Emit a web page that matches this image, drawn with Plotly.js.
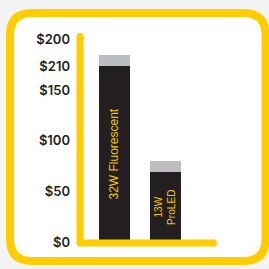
<!DOCTYPE html>
<html>
<head>
<meta charset="utf-8">
<script src="https://cdn.plot.ly/plotly-3.0.1.min.js"></script>
<style>
html,body{margin:0;padding:0;background:#f4f4f4;}
#chart{width:269px;height:269px;}
</style>
</head>
<body>
<div id="chart"></div>
<script>
// Data
const categories = [0, 1];
const barLabels = ["32W Fluorescent", "13W<br>ProLED"];
const baseCost = [174, 69];
const capCost = [11, 11];
const tickValues = [0, 50, 100, 150, 173, 200];
const tickLabels = ["$0", "$50", "$100", "$150", "$210", "$200"];

// Layout geometry (pixels)
const W = 269, H = 269;
const ml = 80, mr = 51, mt = 30, mb = 19;
const pw = W - ml - mr, ph = H - mt - mb;
const px = x => (x - ml) / pw;
const py = y => (H - mb - y) / ph;

const yellow = "#ffcc00";

// rounded frame
const L = 10, R = 265.5, T = 13, B = 261, r = 22;
const framePath =
  `M ${px(L + r)} ${py(T)} L ${px(R - r)} ${py(T)} Q ${px(R)} ${py(T)} ${px(R)} ${py(T + r)} ` +
  `L ${px(R)} ${py(B - r)} Q ${px(R)} ${py(B)} ${px(R - r)} ${py(B)} ` +
  `L ${px(L + r)} ${py(B)} Q ${px(L)} ${py(B)} ${px(L)} ${py(B - r)} ` +
  `L ${px(L)} ${py(T + r)} Q ${px(L)} ${py(T)} ${px(L + r)} ${py(T)} Z`;

function dot(cx, cy, rad) {
  return {type: "circle", xref: "paper", yref: "paper", layer: "above",
    x0: px(cx - rad), x1: px(cx + rad), y0: py(cy + rad), y1: py(cy - rad),
    fillcolor: yellow, line: {width: 0}};
}

const shapes = [
  {type: "path", xref: "paper", yref: "paper", layer: "below", path: framePath,
   fillcolor: "#ffffff", line: {color: yellow, width: 8}},
  {type: "line", xref: "paper", yref: "paper", layer: "above",
   x0: px(80), x1: px(80), y0: py(36.5), y1: py(243), line: {color: yellow, width: 7}},
  {type: "line", xref: "paper", yref: "paper", layer: "above",
   x0: px(80), x1: px(213.5), y0: py(243), y1: py(243), line: {color: yellow, width: 7}},
  dot(80, 36.5, 3.5), dot(213.5, 243, 3.5), dot(80, 243, 3.5)
];

const traces = [
  {type: "bar", x: categories, y: baseCost, marker: {color: "#231f20", line: {width: 0}},
   text: barLabels, textposition: "inside", insidetextanchor: "middle", textangle: -90,
   textfont: {family: "Liberation Sans, Arial, sans-serif", size: 12, color: "#f2c500"},
   hoverinfo: "none", cliponaxis: false},
  {type: "bar", x: categories, y: capCost, marker: {color: "#bcbdc0", line: {width: 0}},
   hoverinfo: "none"}
];

const layout = {
  width: W, height: H,
  margin: {l: ml, r: mr, t: mt, b: mb, pad: 0},
  paper_bgcolor: "#f4f4f4",
  plot_bgcolor: "rgba(0,0,0,0)",
  barmode: "stack",
  bargap: 0.392,
  showlegend: false,
  xaxis: {range: [-0.676, -0.676 + pw / 51], showticklabels: false, showgrid: false,
          zeroline: false, showline: false, ticks: "", fixedrange: true},
  yaxis: {range: [(242 - (H - mb)) / 1.0133, (242 - mt) / 1.0133],
          tickmode: "array", tickvals: tickValues, ticktext: tickLabels,
          showgrid: false, zeroline: false, showline: false, ticks: "",
          ticklabelstandoff: 9,
          tickfont: {family: "Inter, Roboto, sans-serif", size: 13, color: "#231f20", weight: 600}},
  shapes: shapes
};

Plotly.newPlot("chart", traces, layout, {staticPlot: true, displayModeBar: false});
</script>
</body>
</html>
